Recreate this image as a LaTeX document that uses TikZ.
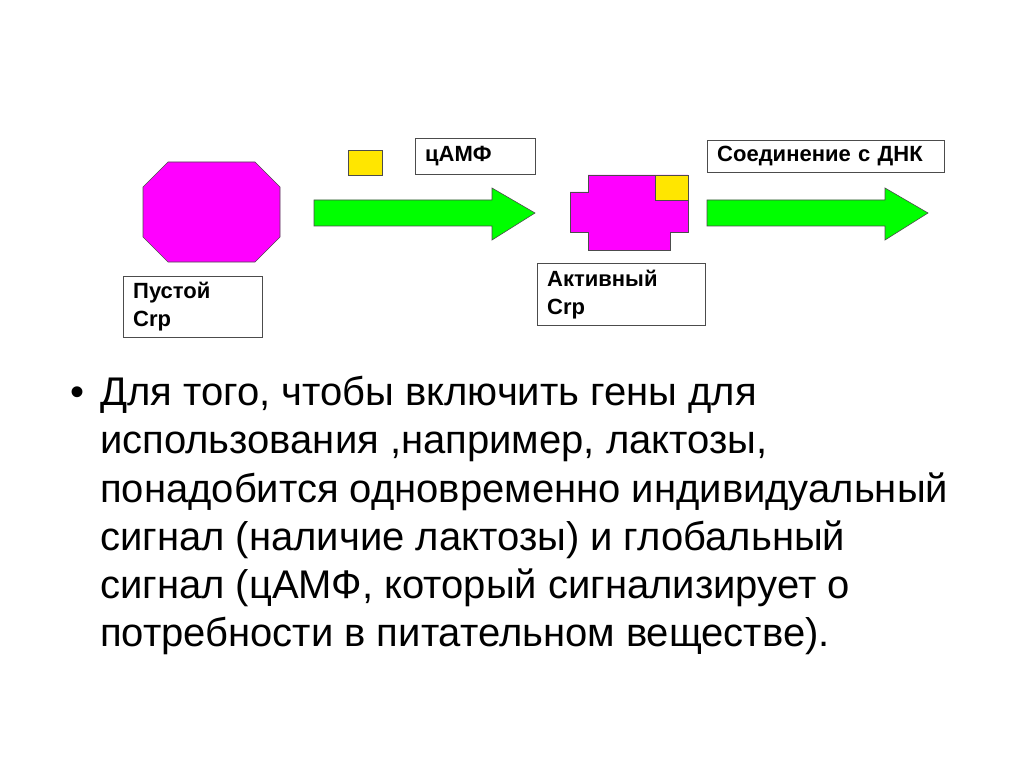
\documentclass[tikz,border=0pt]{standalone}
\usepackage{fontspec}
\setmainfont{Liberation Sans}
\definecolor{crpmag}{RGB}{255,0,255}
\definecolor{camp}{RGB}{255,230,0}
\definecolor{arrgreen}{RGB}{0,255,0}
\begin{document}
\begin{tikzpicture}[x=1pt,y=-1pt,
    every node/.style={font=\bfseries\fontsize{22}{28}\selectfont},
    labelbox/.style={draw=black!70, fill=white, align=left, anchor=north west, inner xsep=10pt, inner ysep=6pt},
    shapeline/.style={draw=black!70, line width=0.6pt},
    bodytext/.style={font=\fontsize{40}{48}\selectfont, anchor=base west, inner sep=0pt}
  ]
  \useasboundingbox (0,0) rectangle (1024,767);

  % empty Crp
  \draw[shapeline, fill=crpmag] (168,162) -- (255,162) -- (280,187) -- (280,237) -- (255,262)
       -- (168,262) -- (143,237) -- (143,187) -- cycle;
  \node[labelbox, minimum width=139pt, minimum height=61pt, text width=119pt] (empty) at (123,276) {Пустой\\Crp};

  % cAMP
  \draw[shapeline, fill=camp] (348,150) rectangle (382,175);
  \node[labelbox, minimum width=120pt, minimum height=36pt, text width=100pt] (camplbl) at (415,138) {цАМФ};
  \draw[shapeline, fill=arrgreen] (314,200) -- (492,200) -- (492,188) -- (535,213) -- (492,240)
       -- (492,226) -- (314,226) -- cycle;

  % active Crp
  \draw[shapeline, fill=crpmag] (588,175) -- (688,175) -- (688,232) -- (670,232) -- (670,250)
       -- (588,250) -- (588,232) -- (570,232) -- (570,192) -- (588,192) -- cycle;
  \draw[shapeline, fill=camp] (655,175) rectangle (688,200);
  \node[labelbox, minimum width=168pt, minimum height=62pt, text width=148pt] (active) at (537,263) {Активный\\Crp};

  % DNA binding
  \node[labelbox, minimum width=237pt, minimum height=32pt, text width=217pt, inner ysep=3pt] (dna) at (707,140) {Соединение с ДНК};
  \draw[shapeline, fill=arrgreen] (707,200) -- (885,200) -- (885,188) -- (928,213) -- (885,240)
       -- (885,226) -- (707,226) -- cycle;

  % text
  \node[bodytext] (bullet) at (70,405) {•};
  \node[bodytext] (l1) at (100,405) {Для того, чтобы включить гены для};
  \node[bodytext] (l2) at (100,453) {использования ,например, лактозы,};
  \node[bodytext] (l3) at (100,502) {понадобится одновременно индивидуальный};
  \node[bodytext] (l4) at (100,550) {сигнал (наличие лактозы) и глобальный};
  \node[bodytext] (l5) at (100,598) {сигнал (цАМФ, который сигнализирует о};
  \node[bodytext] (l6) at (100,646) {потребности в питательном веществе).};
\end{tikzpicture}
\end{document}
